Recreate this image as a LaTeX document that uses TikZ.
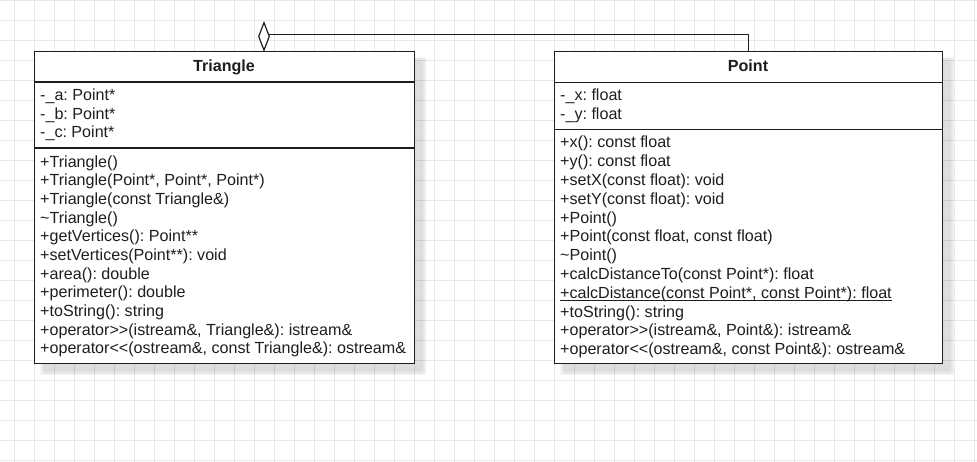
\documentclass[tikz,border=0pt]{standalone}
\usepackage{fontspec}
\newfontfamily\uml{Liberation Sans}
\usetikzlibrary{shapes.geometric,calc}
\definecolor{gridc}{HTML}{E8E8E8}
\definecolor{ink}{HTML}{1E1E1E}
\frenchspacing
\begin{document}
\begin{tikzpicture}[x=1pt,y=-1pt,
  classbox/.style={draw=ink, line width=1.2pt, fill=white, inner sep=0pt, anchor=north west},
  member/.style={anchor=base west, inner sep=0pt, font=\uml\frenchspacing\fontsize{16.1}{19}\selectfont, text=ink},
  classtitle/.style={anchor=base, inner sep=0pt, font=\uml\bfseries\fontsize{16.1}{19}\selectfont, text=ink},
  sepline/.style={draw=ink, line width=1.2pt},
  gridline/.style={draw=gridc, line width=0.8pt},
  conn/.style={draw=ink, line width=1.2pt},
  aggdiamond/.style={diamond, draw=ink, fill=white, line width=1.2pt, inner sep=0pt,
    minimum width=11pt, minimum height=28pt, anchor=south}]
\useasboundingbox (0,0) rectangle (977,462);
\fill[white] (0,0) rectangle (977,462);
% grid
\foreach \k in {0,...,48} \draw[gridline] ({14.7+20*\k},0) -- ({14.7+20*\k},462);
\foreach \k in {0,...,23} \draw[gridline] (0,{0.7+20*\k}) -- (977,{0.7+20*\k});
% shadows
\foreach \d in {0,1.5,3} {
  \fill[black,opacity=0.045] ({43-\d},{60-\d}) rectangle ({423+\d},{372+\d});
  \fill[black,opacity=0.045] ({563-\d},{60-\d}) rectangle ({951+\d},{372+\d});
}
% boxes
\node[classbox, minimum width=380pt, minimum height=312pt] (tri) at (34,51) {};
\node[classbox, minimum width=388pt, minimum height=312pt] (pt) at (554,51) {};
\draw[sepline] ($(tri.north west)+(0,31)$) -- ($(tri.north east)+(0,31)$);
\draw[sepline] ($(tri.north west)+(0,97)$) -- ($(tri.north east)+(0,97)$);
\draw[sepline] ($(pt.north west)+(0,31.3)$) -- ($(pt.north east)+(0,31.3)$);
\draw[sepline] ($(pt.north west)+(0,78.3)$) -- ($(pt.north east)+(0,78.3)$);
% titles
\node[classtitle] (trititle) at (224,72) {Triangle};
\node[classtitle] (pttitle) at (748,72) {Point};
% Triangle attributes
\foreach \t [count=\i from 0] in {-\_a: Point*, -\_b: Point*, -\_c: Point*}
  \node[member] (ta\i) at (40,{100.5+18.66*\i}) {\t};
% Triangle methods
\foreach \t [count=\i from 0] in {
  +Triangle(),
  {+Triangle(Point*, Point*, Point*)},
  +Triangle(const Triangle\&),
  \textasciitilde Triangle(),
  +getVertices(): Point**,
  +setVertices(Point**): void,
  +area(): double,
  +perimeter(): double,
  +toString(): string,
  {+operator>>(istream\&, Triangle\&): istream\&},
  {+operator<<(ostream\&, const Triangle\&): ostream\&}}
  \node[member] (tm\i) at (40,{167.2+18.66*\i}) {\t};
% Point attributes
\foreach \t [count=\i from 0] in {-\_x: float, -\_y: float}
  \node[member] (pa\i) at (560,{100.5+18.8*\i}) {\t};
% Point methods
\foreach \t [count=\i from 0] in {
  +x(): const float,
  +y(): const float,
  +setX(const float): void,
  +setY(const float): void,
  +Point(),
  {+Point(const float, const float)},
  \textasciitilde Point(),
  +calcDistanceTo(const Point*): float,
  {+calcDistance(const Point*, const Point*): float},
  +toString(): string,
  {+operator>>(istream\&, Point\&): istream\&},
  {+operator<<(ostream\&, const Point\&): ostream\&}}
  \node[member] (pm\i) at (560,{147.9+18.8*\i}) {\t};
\draw[draw=ink, line width=1.1pt] ($(pm8.base west)+(0,2.5)$) -- ($(pm8.base east)+(0,2.5)$);
% aggregation connector
\coordinate (bend) at (264,34.3);
\draw[conn] (pt.north) |- (bend);
\node[aggdiamond] (agg) at (264,51) {};
\end{tikzpicture}
\end{document}
